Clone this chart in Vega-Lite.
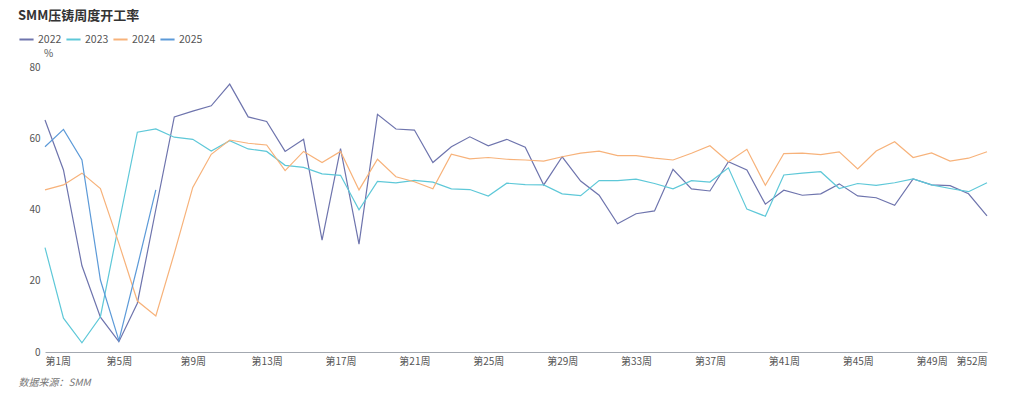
{
  "$schema": "https://vega.github.io/schema/vega-lite/v6.json",
  "autosize": {"type": "none"},
  "width": 942,
  "height": 285,
  "padding": {"left": 45, "top": 67, "right": 37, "bottom": 47},
  "background": "#ffffff",
  "config": {
    "view": {"stroke": null},
    "font": "Noto Sans CJK SC"
  },
  "title": {
    "text": "SMM压铸周度开工率",
    "anchor": "start",
    "frame": "group",
    "dx": -27,
    "offset": 8,
    "fontSize": 13,
    "fontWeight": "bold",
    "color": "#333333",
    "font": "Noto Sans CJK SC"
  },
  "datasets": {
    "rows": [
      {"year":"2022","week":1,"value":65.1},{"year":"2022","week":2,"value":51.1},{"year":"2022","week":3,"value":24.2},{"year":"2022","week":4,"value":9.8},{"year":"2022","week":5,"value":2.9},{"year":"2022","week":6,"value":13.7},{"year":"2022","week":7,"value":40},{"year":"2022","week":8,"value":66},{"year":"2022","week":9,"value":67.6},{"year":"2022","week":10,"value":69.1},{"year":"2022","week":11,"value":75.2},{"year":"2022","week":12,"value":66},{"year":"2022","week":13,"value":64.7},{"year":"2022","week":14,"value":56.3},{"year":"2022","week":15,"value":59.7},{"year":"2022","week":16,"value":31.4},{"year":"2022","week":17,"value":57.1},{"year":"2022","week":18,"value":30.3},{"year":"2022","week":19,"value":66.7},{"year":"2022","week":20,"value":62.6},{"year":"2022","week":21,"value":62.3},{"year":"2022","week":22,"value":53.2},{"year":"2022","week":23,"value":57.6},{"year":"2022","week":24,"value":60.4},{"year":"2022","week":25,"value":57.9},{"year":"2022","week":26,"value":59.7},{"year":"2022","week":27,"value":57.5},{"year":"2022","week":28,"value":46.9},{"year":"2022","week":29,"value":54.8},{"year":"2022","week":30,"value":48},{"year":"2022","week":31,"value":44},{"year":"2022","week":32,"value":36},{"year":"2022","week":33,"value":38.8},{"year":"2022","week":34,"value":39.6},{"year":"2022","week":35,"value":51.3},{"year":"2022","week":36,"value":45.8},{"year":"2022","week":37,"value":45.2},{"year":"2022","week":38,"value":53.4},{"year":"2022","week":39,"value":51.1},{"year":"2022","week":40,"value":41.5},{"year":"2022","week":41,"value":45.4},{"year":"2022","week":42,"value":44},{"year":"2022","week":43,"value":44.4},{"year":"2022","week":44,"value":47.2},{"year":"2022","week":45,"value":43.8},{"year":"2022","week":46,"value":43.3},{"year":"2022","week":47,"value":41.2},{"year":"2022","week":48,"value":48.6},{"year":"2022","week":49,"value":46.9},{"year":"2022","week":50,"value":46.7},{"year":"2022","week":51,"value":44.4},{"year":"2022","week":52,"value":38.2},
      {"year":"2023","week":1,"value":29.3},{"year":"2023","week":2,"value":9.5},{"year":"2023","week":3,"value":2.6},{"year":"2023","week":4,"value":9.9},{"year":"2023","week":5,"value":36},{"year":"2023","week":6,"value":61.7},{"year":"2023","week":7,"value":62.6},{"year":"2023","week":8,"value":60.3},{"year":"2023","week":9,"value":59.7},{"year":"2023","week":10,"value":56.4},{"year":"2023","week":11,"value":59.3},{"year":"2023","week":12,"value":57},{"year":"2023","week":13,"value":56.3},{"year":"2023","week":14,"value":52.4},{"year":"2023","week":15,"value":51.8},{"year":"2023","week":16,"value":50},{"year":"2023","week":17,"value":49.6},{"year":"2023","week":18,"value":39.9},{"year":"2023","week":19,"value":47.9},{"year":"2023","week":20,"value":47.5},{"year":"2023","week":21,"value":48.2},{"year":"2023","week":22,"value":47.7},{"year":"2023","week":23,"value":45.8},{"year":"2023","week":24,"value":45.6},{"year":"2023","week":25,"value":43.8},{"year":"2023","week":26,"value":47.4},{"year":"2023","week":27,"value":47},{"year":"2023","week":28,"value":46.9},{"year":"2023","week":29,"value":44.4},{"year":"2023","week":30,"value":43.9},{"year":"2023","week":31,"value":48.1},{"year":"2023","week":32,"value":48.1},{"year":"2023","week":33,"value":48.5},{"year":"2023","week":34,"value":47.3},{"year":"2023","week":35,"value":45.8},{"year":"2023","week":36,"value":48.1},{"year":"2023","week":37,"value":47.7},{"year":"2023","week":38,"value":51.7},{"year":"2023","week":39,"value":40.1},{"year":"2023","week":40,"value":38.1},{"year":"2023","week":41,"value":49.7},{"year":"2023","week":42,"value":50.2},{"year":"2023","week":43,"value":50.6},{"year":"2023","week":44,"value":45.9},{"year":"2023","week":45,"value":47.3},{"year":"2023","week":46,"value":46.8},{"year":"2023","week":47,"value":47.5},{"year":"2023","week":48,"value":48.6},{"year":"2023","week":49,"value":46.9},{"year":"2023","week":50,"value":45.9},{"year":"2023","week":51,"value":45},{"year":"2023","week":52,"value":47.5},
      {"year":"2024","week":1,"value":45.5},{"year":"2024","week":2,"value":46.9},{"year":"2024","week":3,"value":50.2},{"year":"2024","week":4,"value":45.9},{"year":"2024","week":5,"value":30.5},{"year":"2024","week":6,"value":14.3},{"year":"2024","week":7,"value":10.1},{"year":"2024","week":8,"value":27.7},{"year":"2024","week":9,"value":46.2},{"year":"2024","week":10,"value":55.5},{"year":"2024","week":11,"value":59.5},{"year":"2024","week":12,"value":58.6},{"year":"2024","week":13,"value":58.1},{"year":"2024","week":14,"value":50.9},{"year":"2024","week":15,"value":56.3},{"year":"2024","week":16,"value":53.2},{"year":"2024","week":17,"value":56.3},{"year":"2024","week":18,"value":45.5},{"year":"2024","week":19,"value":54.1},{"year":"2024","week":20,"value":49.2},{"year":"2024","week":21,"value":47.8},{"year":"2024","week":22,"value":45.8},{"year":"2024","week":23,"value":55.5},{"year":"2024","week":24,"value":54.2},{"year":"2024","week":25,"value":54.6},{"year":"2024","week":26,"value":54.1},{"year":"2024","week":27,"value":53.9},{"year":"2024","week":28,"value":53.6},{"year":"2024","week":29,"value":54.8},{"year":"2024","week":30,"value":55.8},{"year":"2024","week":31,"value":56.4},{"year":"2024","week":32,"value":55.1},{"year":"2024","week":33,"value":55.1},{"year":"2024","week":34,"value":54.4},{"year":"2024","week":35,"value":53.9},{"year":"2024","week":36,"value":55.8},{"year":"2024","week":37,"value":57.9},{"year":"2024","week":38,"value":53.4},{"year":"2024","week":39,"value":56.9},{"year":"2024","week":40,"value":46.8},{"year":"2024","week":41,"value":55.7},{"year":"2024","week":42,"value":55.8},{"year":"2024","week":43,"value":55.4},{"year":"2024","week":44,"value":56.2},{"year":"2024","week":45,"value":51.4},{"year":"2024","week":46,"value":56.4},{"year":"2024","week":47,"value":59},{"year":"2024","week":48,"value":54.6},{"year":"2024","week":49,"value":55.9},{"year":"2024","week":50,"value":53.6},{"year":"2024","week":51,"value":54.4},{"year":"2024","week":52,"value":56.2},
      {"year":"2025","week":1,"value":57.6},{"year":"2025","week":2,"value":62.5},{"year":"2025","week":3,"value":53.9},{"year":"2025","week":4,"value":20.2},{"year":"2025","week":5,"value":3.2},{"year":"2025","week":6,"value":24},{"year":"2025","week":7,"value":45.5}
    ]
  },
  "data": {"name": "rows"},
  "mark": {"type": "line", "strokeWidth": 1.2, "interpolate": "linear"},
  "encoding": {
    "x": {
      "field": "week",
      "type": "quantitative",
      "scale": {"domain": [1, 52], "nice": false, "zero": false},
      "axis": {
        "values": [1, 5, 9, 13, 17, 21, 25, 29, 33, 37, 41, 45, 49, 52],
        "labelExpr": "'第' + datum.value + '周'",
        "labelFlush": true,
        "labelOverlap": false,
        "grid": false,
        "ticks": false,
        "domainColor": "#a3a8b0",
        "domainWidth": 1,
        "labelColor": "#555555",
        "labelFontSize": 10,
        "labelPadding": 4,
        "title": "数据来源：SMM",
        "titleAnchor": "start",
        "titleAlign": "left",
        "titleX": -27,
        "titleY": 25,
        "titleFontSize": 10,
        "titleFontStyle": "italic",
        "titleFontWeight": "normal",
        "titleColor": "#777777"
      }
    },
    "y": {
      "field": "value",
      "type": "quantitative",
      "scale": {"domain": [0, 80], "nice": false},
      "axis": {
        "values": [0, 20, 40, 60, 80],
        "grid": false,
        "domain": false,
        "ticks": false,
        "labelColor": "#555555",
        "labelFontSize": 10,
        "labelPadding": 5,
        "title": "%",
        "titleAngle": 0,
        "titleAlign": "center",
        "titleBaseline": "middle",
        "titleX": 3,
        "titleY": -14,
        "titleFontSize": 10,
        "titleFontWeight": "normal",
        "titleColor": "#555555"
      }
    },
    "color": {
      "field": "year",
      "type": "nominal",
      "scale": {
        "domain": ["2022", "2023", "2024", "2025"],
        "range": ["#6e74ad", "#5ec8d8", "#f7b27a", "#5c9ad8"]
      },
      "legend": {
        "orient": "none",
        "direction": "horizontal",
        "legendX": -27,
        "legendY": -36,
        "title": null,
        "symbolType": "stroke",
        "symbolSize": 200,
        "symbolStrokeWidth": 2,
        "labelFontSize": 10.5,
        "labelColor": "#555555",
        "columnPadding": 0,
        "labelOffset": 3
      }
    },
    "order": {"field": "week", "type": "quantitative"}
  }
}
